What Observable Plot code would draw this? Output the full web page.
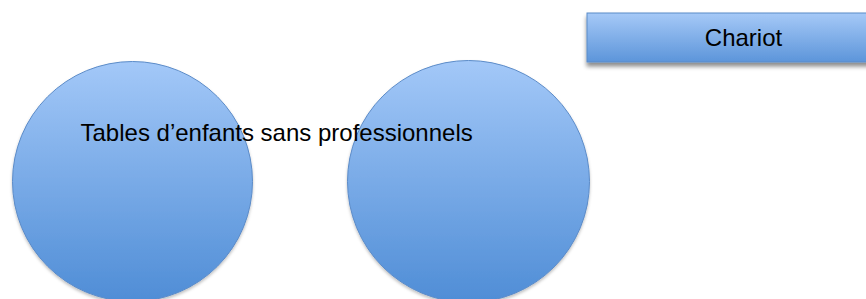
<!DOCTYPE html>
<html>
<head>
<meta charset="utf-8">
<script src="https://cdn.jsdelivr.net/npm/d3@7"></script>
<script src="https://cdn.jsdelivr.net/npm/@observablehq/plot@0.6"></script>
<style>
  html, body { margin: 0; padding: 0; background: #fff; }
  #chart svg { display: block; }
</style>
</head>
<body>
<div id="chart"></div>
<script>
// Diagram elements (pixel-like coordinate space 0..866 x 0..299)
const circleNames = ["Cercle gauche", "Cercle droit"];
const circleCx = [132, 468];
const circleCy = [181, 181];
const circleR = [120, 121];

const boxLabels = ["Chariot"];
const boxX1 = [587];
const boxX2 = [900];
const boxY1 = [13];
const boxY2 = [62];
const boxLabelX = [743];
const boxLabelY = [45];

const labelTexts = ["Tables d’enfants sans professionnels"];
const labelX = [80];
const labelY = [140];

const circles = circleNames.map((n, i) => ({name: n, x: circleCx[i], y: circleCy[i], r: circleR[i]}));
const boxes = boxLabels.map((t, i) => ({label: t, x1: boxX1[i], x2: boxX2[i], y1: boxY1[i], y2: boxY2[i], tx: boxLabelX[i], ty: boxLabelY[i]}));
const labels = labelTexts.map((t, i) => ({text: t, x: labelX[i], y: labelY[i]}));

const defs = () => {
  const ns = "http://www.w3.org/2000/svg";
  const g = document.createElementNS(ns, "defs");
  g.innerHTML = `
    <linearGradient id="gradCircle" x1="0" y1="0" x2="0" y2="1">
      <stop offset="0" stop-color="#a3c8f8"/>
      <stop offset="1" stop-color="#4f8dd6"/>
    </linearGradient>
    <linearGradient id="gradBox" x1="0" y1="0" x2="0" y2="1">
      <stop offset="0" stop-color="#a6c9f7"/>
      <stop offset="1" stop-color="#5c95da"/>
    </linearGradient>
    <filter id="shadow" x="-10%" y="-20%" width="120%" height="170%">
      <feDropShadow dx="0" dy="4" stdDeviation="2.2" flood-color="#000" flood-opacity="0.45"/>
    </filter>
    <filter id="shadowC" x="-10%" y="-10%" width="120%" height="130%">
      <feDropShadow dx="0" dy="2" stdDeviation="1.5" flood-color="#000" flood-opacity="0.25"/>
    </filter>`;
  return g;
};

const chart = Plot.plot({
  width: 866,
  height: 299,
  margin: 0,
  x: {domain: [0, 866], range: [0, 866], axis: null},
  y: {domain: [0, 299], range: [0, 299], axis: null},
  r: {type: "identity"},
  style: {fontFamily: "'Liberation Sans', Arial, sans-serif", background: "#fff"},
  marks: [
    defs,
    Plot.dot(circles, {x: "x", y: "y", r: "r", fill: "url(#gradCircle)", stroke: "#5b8bc8", strokeWidth: 1}),
    Plot.rect(boxes, {x1: "x1", x2: "x2", y1: "y1", y2: "y2", fill: "url(#gradBox)", stroke: "#5b8bc8", strokeWidth: 1}),
    Plot.text(boxes, {x: "tx", y: "ty", text: "label", fontSize: 24, fill: "#000", textAnchor: "middle", lineAnchor: "bottom"}),
    Plot.text(labels, {x: "x", y: "y", text: "text", fontSize: 24, fill: "#000", textAnchor: "start", lineAnchor: "bottom"})
  ]
});

chart.querySelectorAll("g[aria-label='rect']").forEach(g => g.setAttribute("filter", "url(#shadow)"));
chart.querySelectorAll("g[aria-label='dot']").forEach(g => g.setAttribute("filter", "url(#shadowC)"));

document.getElementById("chart").appendChild(chart);
</script>
</body>
</html>
